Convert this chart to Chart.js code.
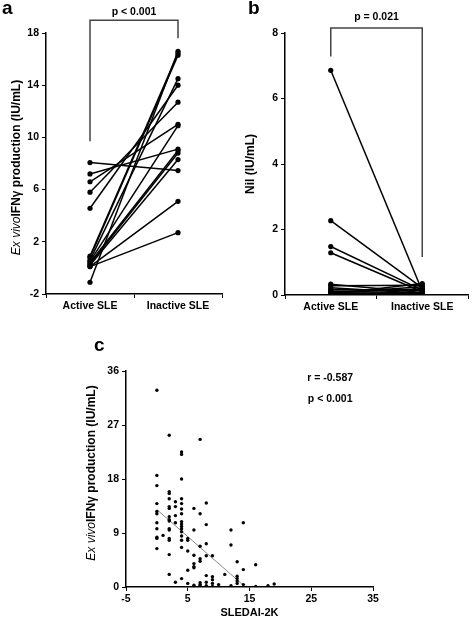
<!DOCTYPE html>
<html>
<head>
<meta charset="utf-8">
<script src="https://cdn.jsdelivr.net/npm/chart.js@4.4.1/dist/chart.umd.min.js"></script>
<style>
  body { margin: 0; background: #fff; }
  #wrap { position: relative; width: 472px; height: 620px; }
  canvas { position: absolute; }
  .tag { position: absolute; font: bold 19px "Liberation Sans", Arial, sans-serif; color: #000; }
</style>
</head>
<body>
<div id="wrap">
  <canvas id="chartA" width="236" height="312" style="left:0;top:0"></canvas>
  <canvas id="chartB" width="236" height="312" style="left:236px;top:0"></canvas>
  <canvas id="chartC" width="472" height="308" style="left:0;top:312px"></canvas>
  <div class="tag" style="left:2px;top:-3px">a</div>
  <div class="tag" style="left:248px;top:-3px">b</div>
  <div class="tag" style="left:94px;top:334px">c</div>
</div>
<script>
// panel a / b: paired values per patient
const groups = ['Active SLE', 'Inactive SLE'];
const ifnActive   = [8.07, 7.2, 6.6, 5.8, 4.57, 0.9, 0.8, 0.6, 0.5, 0.4, 0.3, 0.2, 0.1, 0.1, -1.1];
const ifnInactive = [7.46, 9.1, 11.0, 12.7, 14.0, 16.45, 16.3, 14.5, 10.9, 9.0, 8.8, 8.3, 5.1, 2.7, 16.6];
const nilActive   = [6.86, 2.27, 1.48, 1.29, 0.33, 0.28, 0.22, 0.17, 0.12, 0.1, 0.08, 0.06, 0.05, 0.03, 0.02];
const nilInactive = [0.12, 0.22, 0.15, 0.1, 0.08, 0.3, 0.05, 0.14, 0.06, 0.18, 0.04, 0.25, 0.03, 0.35, 0.07];
const bracketA = [9.7, 18.97, 18.97, 17.6];
const bracketB = [7.28, 8.15, 8.15, 1.16];

// panel c: SLEDAI-2K vs ex vivo IFNy
const sledai = [
  0,0,0,0,0,0,0,0,0,0,0, 1,
  2,2,2,2,2,2,2,2,2,2,2,2,2,2,2,
  3,3,3,3,3,
  4,4,4,4,4,4,4,4,4,4,4,4,4,4,4,4,
  5,5,5,5,5,
  6,6,6,6,6,6,6,
  7,7,7,7,7,7,7,7,
  8,8,8,8,8,8,8,
  9,9,9,9,9, 10, 11,
  12,12,12, 13,13,13,13,13, 14,14,14, 16,16, 18, 19
];
const ifnLevels = [
  32.8,18.6,16.9,13.9,12.6,12.2,10.7,9.7,8.3,8.1,6.4, 8.6,
  25.3,15.9,15.6,14.7,13.4,13.1,11.7,11.2,11.0,9.7,9.5,8.1,7.8,5.4,2.1,
  14.2,13.4,11.9,10.7,0.8,
  22.5,22.1,18.0,14.7,13.9,13.0,12.2,10.9,10.5,10.1,9.7,9.2,8.5,7.8,6.6,1.4,
  8.1,7.8,6.0,2.8,0.6,
  13.1,9.5,5.3,3.9,3.4,3.2,0.3,
  24.6,12.2,6.8,4.7,4.3,0.7,0.4,0.2,
  14.0,10.4,7.2,5.2,1.9,0.8,0.2,
  5.2,1.7,1.2,0.6,0.1, 0.4, 2.1,
  9.5,7.0,0.2, 4.2,1.8,1.4,1.0,0.6, 10.7,2.9,0.4, 3.7,0.1, 0.2, 0.5
];
const fitX = [0, 14];
const fitY = [12.9, 0.3];

Chart.defaults.font.family = '"Liberation Sans", Arial, sans-serif';
Chart.defaults.color = '#000';
Chart.defaults.animation = false;

const FONT = '"Liberation Sans", Arial, sans-serif';
const tickFont = { size: 10.5, weight: 'bold' };

// rotated y title (mixed italic) and small notes
const panelText = {
  id: 'panelText',
  afterDraw(chart, args, opts) {
    const ctx = chart.ctx;
    const area = chart.chartArea;
    ctx.save();
    ctx.fillStyle = '#000';
    if (opts.yTitle) {
      const parts = opts.yTitle.parts;
      let total = 0;
      parts.forEach(p => { ctx.font = p.font; total += ctx.measureText(p.text).width; });
      ctx.translate(opts.yTitle.x, (area.top + area.bottom) / 2 + (opts.yTitle.dy || 0));
      ctx.rotate(-Math.PI / 2);
      ctx.textAlign = 'left';
      ctx.textBaseline = 'middle';
      let x = -total / 2;
      parts.forEach(p => {
        ctx.font = p.font;
        ctx.fillText(p.text, x, 0);
        x += ctx.measureText(p.text).width;
      });
      ctx.setTransform(1, 0, 0, 1, 0, 0);
    }
    (opts.notes || []).forEach(n => {
      ctx.font = 'bold 10.5px ' + FONT;
      ctx.textAlign = 'center';
      ctx.textBaseline = 'middle';
      ctx.fillText(n.text, chart.scales.x.getPixelForValue(n.x), chart.scales.y.getPixelForValue(n.y));
    });
    ctx.restore();
  }
};

function pairedChart(id, active, inactive, bracket, yMin, yMax, step, pad, yWidth, xHeight, textOpts) {
  const datasets = active.map((v, i) => ({
    data: [{ x: groups[0], y: v }, { x: groups[1], y: inactive[i] }],
    borderColor: '#000',
    backgroundColor: '#000',
    borderWidth: 1.5,
    pointRadius: 2.6,
    pointBorderWidth: 0
  }));
  datasets.push({
    data: bracket.map((v, i) => ({ x: groups[i < 2 ? 0 : 1], y: v })),
    borderColor: '#444',
    borderWidth: 1.5,
    pointRadius: 0,
    clip: false
  });
  return new Chart(document.getElementById(id), {
    type: 'line',
    data: { labels: groups, datasets: datasets },
    options: {
      responsive: false,
      layout: { padding: pad },
      plugins: { legend: { display: false }, tooltip: { enabled: false }, panelText: textOpts },
      scales: {
        x: {
          offset: true,
          grid: { offset: true, drawOnChartArea: false, drawTicks: true, tickLength: 4, color: '#000' },
          border: { color: '#000', width: 1.5 },
          ticks: { font: tickFont, color: '#000', padding: 2 },
          afterFit: s => { s.height = xHeight; }
        },
        y: {
          min: yMin, max: yMax,
          grid: { drawOnChartArea: false, drawTicks: true, tickLength: 4, color: '#000' },
          border: { color: '#000', width: 1.5 },
          ticks: { stepSize: step, font: tickFont, color: '#000', padding: 3 },
          afterFit: s => { s.width = yWidth; }
        }
      }
    },
    plugins: [panelText]
  });
}

pairedChart('chartA', ifnActive, ifnInactive, bracketA, -2, 18, 4,
  { top: 33, right: 14, bottom: 0, left: 0 }, 46, 18, {
    yTitle: { x: 17, dy: 4, parts: [
      { text: 'Ex vivo', font: 'italic 12px ' + FONT },
      { text: 'IFN\u03b3 production (IU/mL)', font: 'bold 12px ' + FONT }
    ] },
    notes: [{ text: 'p < 0.001', x: 0.5, y: 19.63 }]
  });

pairedChart('chartB', nilActive, nilInactive, bracketB, 0, 8, 2,
  { top: 33, right: 4, bottom: 0, left: 0 }, 49, 17, {
    yTitle: { x: 15, dy: 0, parts: [{ text: 'Nil (IU/mL)', font: 'bold 12px ' + FONT }] },
    notes: [{ text: 'p = 0.021', x: 0.5, y: 8.47 }]
  });

new Chart(document.getElementById('chartC'), {
  type: 'scatter',
  data: {
    datasets: [{
      data: sledai.map((s, i) => ({ x: s, y: ifnLevels[i] })),
      backgroundColor: '#000',
      borderWidth: 0,
      pointRadius: 1.7
    }, {
      data: fitX.map((s, i) => ({ x: s, y: fitY[i] })),
      showLine: true,
      borderColor: '#8a8a8a',
      borderWidth: 1,
      pointRadius: 0
    }]
  },
  options: {
    responsive: false,
    layout: { padding: { top: 59, right: 99, bottom: 0, left: 0 } },
    plugins: {
      legend: { display: false }, tooltip: { enabled: false },
      panelText: {
        yTitle: { x: 92, dy: -6, parts: [
          { text: 'Ex vivo', font: 'italic 12px ' + FONT },
          { text: 'IFN\u03b3 production (IU/mL)', font: 'bold 12px ' + FONT }
        ] },
        notes: [
          { text: 'r = -0.587', x: 28.06, y: 34.8 },
          { text: 'p < 0.001', x: 28.06, y: 31.3 }
        ]
      }
    },
    scales: {
      x: {
        min: -5, max: 35,
        grid: { drawOnChartArea: false, drawTicks: true, tickLength: 4, color: '#000' },
        border: { color: '#000', width: 1.5 },
        ticks: { stepSize: 10, font: tickFont, color: '#000', padding: 2 },
        title: { display: true, text: 'SLEDAI-2K', font: { size: 11, weight: 'bold' }, color: '#000', padding: 0 },
        afterFit: s => { s.height = 33; }
      },
      y: {
        min: 0, max: 36,
        grid: { drawOnChartArea: false, drawTicks: true, tickLength: 4, color: '#000' },
        border: { color: '#000', width: 1.5 },
        ticks: { stepSize: 9, font: tickFont, color: '#000', padding: 3 },
        afterFit: s => { s.width = 126; }
      }
    }
  },
  plugins: [panelText]
});
</script>
</body>
</html>
